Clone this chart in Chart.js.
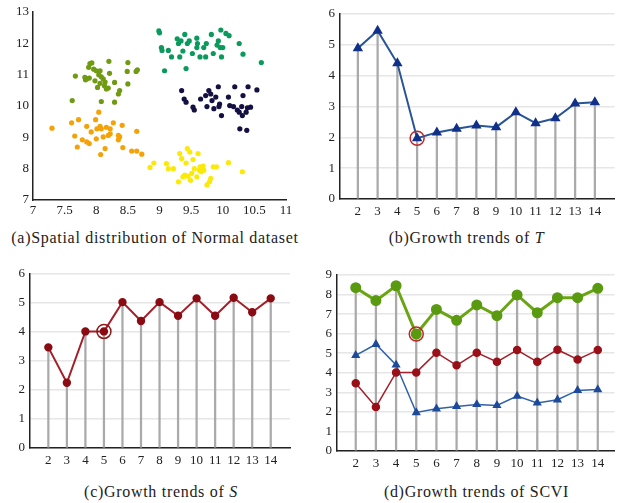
<!DOCTYPE html>
<html>
<head>
<meta charset="utf-8">
<script src="https://cdn.jsdelivr.net/npm/chart.js@4/dist/chart.umd.min.js"></script>
<style>
  body { margin: 0; background: #fff; width: 623px; height: 503px; position: relative; overflow: hidden; font-family: 'Liberation Serif'; }
  .box { position: absolute; }
  .cap { position: absolute; font-family: 'Liberation Serif', 'DejaVu Serif', serif; font-size: 16px; color: #222; text-align: center; white-space: nowrap; letter-spacing: 0.7px; }
</style>
</head>
<body>
<div class="box" style="left:0;top:0;width:300px;height:225px"><canvas id="ca"></canvas></div>
<div class="box" style="left:310px;top:0;width:313px;height:225px"><canvas id="cb"></canvas></div>
<div class="box" style="left:0;top:255px;width:300px;height:225px"><canvas id="cc"></canvas></div>
<div class="box" style="left:310px;top:255px;width:313px;height:225px"><canvas id="cd"></canvas></div>

<div class="cap" style="left:0;width:310px;top:229px">(a)Spatial distribution of Normal dataset</div>
<div class="cap" style="left:310px;width:313px;top:229px">(b)Growth trends of <i>T</i></div>
<div class="cap" style="left:0;width:322px;top:483px">(c)Growth trends of <i>S</i></div>
<div class="cap" style="left:310px;width:333px;top:483px">(d)Growth trends of SCVI</div>

<script>
// 클러스터 수 k
const kLabels = [2, 3, 4, 5, 6, 7, 8, 9, 10, 11, 12, 13, 14];
const tValues = [4.89, 5.46, 4.40, 1.97, 2.16, 2.28, 2.38, 2.33, 2.81, 2.46, 2.62, 3.10, 3.14];
const sValues = [3.47, 2.25, 4.02, 4.02, 5.03, 4.38, 5.03, 4.56, 5.16, 4.56, 5.18, 4.68, 5.16];
const scviValues = [8.35, 7.69, 8.45, 5.98, 7.24, 6.68, 7.47, 6.92, 7.98, 7.07, 7.84, 7.84, 8.32];
const bestK = 5;

// Normal dataset clusters
const olivePts = [[7.67,10.95],[7.90,11.35],[7.93,11.37],[7.88,11.23],[7.96,11.17],[8.00,11.12],[7.86,10.87],[7.83,10.83],[7.89,10.89],[7.98,10.80],[8.04,10.99],[8.06,11.12],[8.08,10.93],[8.11,10.86],[8.06,10.72],[8.02,10.59],[8.14,10.76],[8.21,11.04],[8.20,11.42],[8.29,10.75],[8.19,10.57],[8.16,10.54],[8.37,10.49],[8.50,10.70],[8.50,11.38],[8.63,11.10],[8.65,11.15],[8.49,11.10],[8.35,10.38],[7.62,10.17],[8.08,10.14],[8.29,10.12],[8.13,10.64],[7.82,10.91]];
const orangePts = [[7.30,9.29],[7.61,9.46],[7.72,9.56],[7.66,9.04],[7.70,8.69],[7.85,9.35],[7.78,8.92],[7.85,8.85],[7.89,8.80],[7.99,9.56],[8.04,9.80],[8.01,9.27],[8.06,9.35],[8.08,9.27],[8.00,8.95],[8.11,9.01],[8.07,8.45],[8.14,8.64],[8.19,9.06],[8.22,9.27],[8.27,9.46],[8.22,9.11],[8.35,9.06],[8.35,8.92],[8.37,9.01],[8.41,9.38],[8.42,8.67],[8.56,8.56],[8.64,9.19],[8.64,8.56],[8.72,8.46],[7.92,9.17],[8.16,9.32]];
const tealPts = [[8.99,12.39],[9.00,12.33],[9.03,11.86],[9.04,11.77],[9.08,11.12],[9.14,11.77],[9.19,11.56],[9.28,12.14],[9.30,11.99],[9.32,11.56],[9.34,12.07],[9.37,11.75],[9.40,12.28],[9.42,11.19],[9.44,11.99],[9.47,12.07],[9.52,11.67],[9.59,12.16],[9.60,11.99],[9.64,11.56],[9.70,11.86],[9.73,11.56],[9.74,11.99],[9.82,12.28],[9.85,11.67],[9.91,11.94],[9.93,12.07],[9.96,11.86],[10.00,11.86],[9.97,12.42],[9.98,11.56],[10.05,12.31],[10.10,12.24],[10.26,11.99],[10.32,11.65],[10.61,11.38],[9.59,11.86]];
const navyPts = [[9.35,10.49],[9.39,10.22],[9.42,10.12],[9.53,9.96],[9.55,9.87],[9.65,10.22],[9.73,10.33],[9.75,9.98],[9.78,10.49],[9.81,10.38],[9.83,10.17],[9.86,9.91],[9.89,10.28],[9.93,10.61],[9.94,9.98],[9.95,10.06],[9.98,9.69],[10.09,10.28],[10.11,10.01],[10.19,10.61],[10.17,9.98],[10.23,9.87],[10.26,9.80],[10.30,9.98],[10.32,10.33],[10.37,9.80],[10.40,10.61],[10.44,9.96],[10.39,9.94],[10.31,9.69],[10.54,10.51],[10.27,9.27],[10.38,9.22]];
const yellowPts = [[8.85,8.04],[8.91,8.18],[9.11,8.16],[9.14,8.00],[9.22,8.00],[9.30,7.58],[9.32,8.48],[9.37,7.74],[9.42,8.18],[9.44,8.64],[9.45,7.76],[9.48,8.53],[9.51,7.85],[9.53,8.29],[9.55,8.00],[9.59,7.74],[9.61,8.48],[9.63,7.95],[9.64,8.06],[9.66,7.90],[9.69,8.08],[9.70,7.95],[9.75,7.48],[9.79,7.58],[9.81,7.69],[9.85,8.06],[9.90,8.06],[10.09,8.19],[10.31,7.90],[9.35,8.32],[9.40,7.79],[9.49,7.63]];

Chart.defaults.font.family = "'Times New Roman', Times, serif";
const tickFont = { family: "'Times New Roman', Times, serif", size: 13 };
const toXY = (vals) => vals.map((v, i) => ({ x: kLabels[i], y: v }));
const highlight = (vals) => [{ x: bestK, y: vals[kLabels.indexOf(bestK)] }];

function fixedAxis(size, isY) {
    return (scale) => { if (isY) scale.width = size; else scale.height = size; };
}

const clusterSet = (pts, color) => ({
    data: pts.map(p => ({ x: p[0], y: p[1] })),
    backgroundColor: color, borderColor: color, pointRadius: 2.6, borderWidth: 0
});

// (a) scatter
function drawScatter() {
    new Chart(document.getElementById('ca'), {
        type: 'scatter',
        data: { datasets: [
            clusterSet(olivePts, '#6f9a12'),
            clusterSet(orangePts, '#f3a20a'),
            clusterSet(tealPts, '#0a9a5c'),
            clusterSet(navyPts, '#141042'),
            clusterSet(yellowPts, '#fbe90a')
        ] },
        options: {
            responsive: true, maintainAspectRatio: false, animation: false,
            layout: { padding: { top: 11, right: 14, left: 0, bottom: 0 } },
            plugins: { legend: { display: false }, tooltip: { enabled: false } },
            scales: {
                x: { type: 'linear', min: 7, max: 11,
                     ticks: { stepSize: 0.5, font: tickFont, color: '#222', padding: 3, callback: (v) => String(v) },
                     grid: { display: false, drawTicks: false },
                     border: { color: '#222', width: 1.5 }, afterFit: fixedAxis(25, false) },
                y: { min: 7, max: 13,
                     ticks: { stepSize: 1, font: tickFont, color: '#222', padding: 4 },
                     grid: { display: false, drawTicks: false },
                     border: { color: '#222', width: 1.5 }, afterFit: fixedAxis(33, true) }
            }
        }
    });
}

// (b)(c)(d) growth trends
function trendChart(id, lines, dropVals, yMax, xMin, xMax, pad, yW, xH, circleColor, circleVals) {
    const datasets = [{
        type: 'bar', data: toXY(dropVals), backgroundColor: '#aaaaaa',
        barThickness: 1.6, order: 5
    }];
    lines.forEach(l => datasets.push({
        type: 'line', data: toXY(l.values), borderColor: l.color, borderWidth: l.width,
        pointStyle: l.style, pointRadius: l.radius, pointBackgroundColor: l.point,
        pointBorderColor: l.point, tension: 0, order: 2
    }));
    datasets.push({
        type: 'line', data: highlight(circleVals), showLine: false, pointRadius: 7,
        pointBackgroundColor: 'rgba(0,0,0,0)', pointBorderColor: circleColor,
        pointBorderWidth: 1.5, order: 0
    });
    new Chart(document.getElementById(id), {
        data: { datasets },
        options: {
            responsive: true, maintainAspectRatio: false, animation: false,
            layout: { padding: pad },
            plugins: { legend: { display: false }, tooltip: { enabled: false } },
            scales: {
                x: { type: 'linear', min: xMin, max: xMax,
                     afterBuildTicks: (axis) => { axis.ticks = kLabels.map(v => ({ value: v })); },
                     ticks: { font: tickFont, color: '#222', padding: 5 },
                     grid: { display: false, drawTicks: false },
                     border: { color: '#222', width: 1.5 }, afterFit: fixedAxis(xH, false) },
                y: { min: 0, max: yMax,
                     ticks: { stepSize: 1, font: tickFont, color: '#222', padding: 5 },
                     grid: { color: '#e6e6e6', lineWidth: 1.5, drawTicks: false },
                     border: { color: '#222', width: 1.5 }, afterFit: fixedAxis(yW, true) }
            }
        }
    });
}

function drawAll() {
    drawScatter();
    trendChart('cb',
        [{ values: tValues, color: '#2a5595', width: 2, style: 'triangle', radius: 4, point: '#10308a' }],
        tValues, 6, 1.63, 14.46, { top: 14, right: 3, left: 0, bottom: 0 }, 30, 26, '#c0262a', tValues);

    trendChart('cc',
        [{ values: sValues, color: '#a3202a', width: 2, style: 'circle', radius: 3.2, point: '#8a0c12' }],
        sValues, 6, 1.55, 14.5, { top: 19, right: 10, left: 0, bottom: 0 }, 30, 32, '#8a1a1a', sValues);

    trendChart('cd',
        [{ values: scviValues, color: '#6aa614', width: 3, style: 'circle', radius: 4, point: '#5a9a10' },
         { values: sValues, color: '#a3202a', width: 1.5, style: 'circle', radius: 3.5, point: '#9a1018' },
         { values: tValues, color: '#2f62a8', width: 1.5, style: 'triangle', radius: 3.8, point: '#1d4a9a' }],
        scviValues, 9, 1.6, 14.3, { top: 20, right: 0, left: 0, bottom: 0 }, 27, 29, '#c0262a', scviValues);
}

drawAll();
</script>
</body>
</html>
